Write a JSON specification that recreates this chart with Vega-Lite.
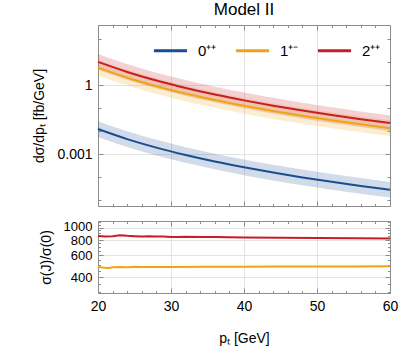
{
  "$schema": "https://vega.github.io/schema/vega-lite/v6.json",
  "padding": {"left": 32, "top": 0, "right": 5, "bottom": 5},
  "background": "white",
  "datasets": {
    "main": [
      {"pT": 20, "J": "0\u207a\u207a", "v": 0.0123, "lo": 0.005591, "hi": 0.02706},
      {"pT": 24, "J": "0\u207a\u207a", "v": 0.004472, "lo": 0.002033, "hi": 0.009838},
      {"pT": 28, "J": "0\u207a\u207a", "v": 0.001901, "lo": 0.0008641, "hi": 0.004182},
      {"pT": 32, "J": "0\u207a\u207a", "v": 0.000906, "lo": 0.0004118, "hi": 0.001993},
      {"pT": 36, "J": "0\u207a\u207a", "v": 0.000471, "lo": 0.0002141, "hi": 0.001036},
      {"pT": 40, "J": "0\u207a\u207a", "v": 0.000263, "lo": 0.0001195, "hi": 0.0005786},
      {"pT": 44, "J": "0\u207a\u207a", "v": 0.000155, "lo": 0.00007045, "hi": 0.000341},
      {"pT": 48, "J": "0\u207a\u207a", "v": 0.0000955, "lo": 0.00004341, "hi": 0.0002101},
      {"pT": 52, "J": "0\u207a\u207a", "v": 0.0000612, "lo": 0.00002782, "hi": 0.0001346},
      {"pT": 56, "J": "0\u207a\u207a", "v": 0.0000406, "lo": 0.00001845, "hi": 0.00008932},
      {"pT": 60, "J": "0\u207a\u207a", "v": 0.0000277, "lo": 0.00001259, "hi": 0.00006094},
      {"pT": 20, "J": "1\u207a\u207b", "v": 5.88, "lo": 2.673, "hi": 12.94},
      {"pT": 24, "J": "1\u207a\u207b", "v": 2.147, "lo": 0.9759, "hi": 4.723},
      {"pT": 28, "J": "1\u207a\u207b", "v": 0.9144, "lo": 0.4156, "hi": 2.012},
      {"pT": 32, "J": "1\u207a\u207b", "v": 0.4367, "lo": 0.1985, "hi": 0.9607},
      {"pT": 36, "J": "1\u207a\u207b", "v": 0.2275, "lo": 0.1034, "hi": 0.5005},
      {"pT": 40, "J": "1\u207a\u207b", "v": 0.1273, "lo": 0.05786, "hi": 0.2801},
      {"pT": 44, "J": "1\u207a\u207b", "v": 0.07502, "lo": 0.0341, "hi": 0.165},
      {"pT": 48, "J": "1\u207a\u207b", "v": 0.04632, "lo": 0.02105, "hi": 0.1019},
      {"pT": 52, "J": "1\u207a\u207b", "v": 0.02968, "lo": 0.01349, "hi": 0.0653},
      {"pT": 56, "J": "1\u207a\u207b", "v": 0.01973, "lo": 0.008968, "hi": 0.04341},
      {"pT": 60, "J": "1\u207a\u207b", "v": 0.01346, "lo": 0.006118, "hi": 0.02961},
      {"pT": 20, "J": "2\u207a\u207a", "v": 10.52, "lo": 4.782, "hi": 23.14},
      {"pT": 24, "J": "2\u207a\u207a", "v": 3.824, "lo": 1.738, "hi": 8.413},
      {"pT": 28, "J": "2\u207a\u207a", "v": 1.616, "lo": 0.7345, "hi": 3.555},
      {"pT": 32, "J": "2\u207a\u207a", "v": 0.7656, "lo": 0.348, "hi": 1.684},
      {"pT": 36, "J": "2\u207a\u207a", "v": 0.3956, "lo": 0.1798, "hi": 0.8703},
      {"pT": 40, "J": "2\u207a\u207a", "v": 0.2196, "lo": 0.09982, "hi": 0.4831},
      {"pT": 44, "J": "2\u207a\u207a", "v": 0.1287, "lo": 0.0585, "hi": 0.2831},
      {"pT": 48, "J": "2\u207a\u207a", "v": 0.07879, "lo": 0.03581, "hi": 0.1733},
      {"pT": 52, "J": "2\u207a\u207a", "v": 0.05006, "lo": 0.02275, "hi": 0.1101},
      {"pT": 56, "J": "2\u207a\u207a", "v": 0.03297, "lo": 0.01499, "hi": 0.07253},
      {"pT": 60, "J": "2\u207a\u207a", "v": 0.02238, "lo": 0.01017, "hi": 0.04924}
    ],
    "ratio": [
      {"pT": 20, "J": "2\u207a\u207a", "r": 856},
      {"pT": 21, "J": "2\u207a\u207a", "r": 846},
      {"pT": 22, "J": "2\u207a\u207a", "r": 850},
      {"pT": 23, "J": "2\u207a\u207a", "r": 867},
      {"pT": 24, "J": "2\u207a\u207a", "r": 858},
      {"pT": 25, "J": "2\u207a\u207a", "r": 852},
      {"pT": 26, "J": "2\u207a\u207a", "r": 846},
      {"pT": 27, "J": "2\u207a\u207a", "r": 851},
      {"pT": 28, "J": "2\u207a\u207a", "r": 848},
      {"pT": 29, "J": "2\u207a\u207a", "r": 846},
      {"pT": 30, "J": "2\u207a\u207a", "r": 841},
      {"pT": 31, "J": "2\u207a\u207a", "r": 838},
      {"pT": 32, "J": "2\u207a\u207a", "r": 842},
      {"pT": 34, "J": "2\u207a\u207a", "r": 840},
      {"pT": 36, "J": "2\u207a\u207a", "r": 838},
      {"pT": 38, "J": "2\u207a\u207a", "r": 835},
      {"pT": 40, "J": "2\u207a\u207a", "r": 831},
      {"pT": 45, "J": "2\u207a\u207a", "r": 828},
      {"pT": 50, "J": "2\u207a\u207a", "r": 825},
      {"pT": 55, "J": "2\u207a\u207a", "r": 820},
      {"pT": 60, "J": "2\u207a\u207a", "r": 815},
      {"pT": 20, "J": "1\u207a\u207b", "r": 481},
      {"pT": 21, "J": "1\u207a\u207b", "r": 474},
      {"pT": 21.5, "J": "1\u207a\u207b", "r": 473},
      {"pT": 22, "J": "1\u207a\u207b", "r": 478},
      {"pT": 23, "J": "1\u207a\u207b", "r": 482},
      {"pT": 24, "J": "1\u207a\u207b", "r": 480},
      {"pT": 25, "J": "1\u207a\u207b", "r": 483},
      {"pT": 26, "J": "1\u207a\u207b", "r": 481},
      {"pT": 28, "J": "1\u207a\u207b", "r": 482},
      {"pT": 30, "J": "1\u207a\u207b", "r": 482},
      {"pT": 35, "J": "1\u207a\u207b", "r": 483},
      {"pT": 40, "J": "1\u207a\u207b", "r": 484},
      {"pT": 45, "J": "1\u207a\u207b", "r": 485},
      {"pT": 50, "J": "1\u207a\u207b", "r": 485},
      {"pT": 55, "J": "1\u207a\u207b", "r": 486},
      {"pT": 60, "J": "1\u207a\u207b", "r": 487}
    ]
  },
  "spacing": 8,
  "vconcat": [
    {
      "width": 292,
      "height": 181,
      "title": {"text": "Model II", "fontSize": 17, "fontWeight": "normal", "color": "#000", "offset": 6, "anchor": "middle"},
      "data": {"name": "main"},
      "layer": [
        {
          "mark": {"type": "area", "interpolate": "monotone", "fillOpacity": 0.2},
          "encoding": {
            "x": {"field": "pT", "type": "quantitative", "scale": {"domain": [20, 60], "nice": false, "zero": false}, "axis": null},
            "y": {"field": "lo", "type": "quantitative", "scale": {"type": "log", "domain": [0.0000054, 427], "nice": false}, "axis": null},
            "y2": {"field": "hi"},
            "color": {"field": "J", "type": "nominal", "scale": {"domain": ["0\u207a\u207a", "1\u207a\u207b", "2\u207a\u207a"], "range": ["#1a4d8f", "#eda613", "#c81d25"]}}
          }
        },
        {
          "mark": {"type": "line", "interpolate": "monotone", "strokeWidth": 2},
          "encoding": {
            "x": {"field": "pT", "type": "quantitative", "axis": {
              "orient": "bottom", "values": [20,22,24,26,28,30,32,34,36,38,40,42,44,46,48,50,52,54,56,58,60],
              "labels": false, "title": null,
              "tickSize": {"condition": {"test": "datum.value % 10 === 0", "value": -5}, "value": -2.5},
              "grid": true,
              "gridOpacity": {"condition": {"test": "datum.value > 20 && datum.value < 60 && datum.value % 10 === 0", "value": 1}, "value": 0}
            }},
            "y": {"field": "v", "type": "quantitative", "axis": {
              "orient": "left", "values": [0.00001, 0.0001, 0.001, 0.01, 0.1, 1, 10, 100],
              "labelExpr": "datum.value === 1 ? '1' : (datum.value === 0.001 ? '0.001' : '')",
              "labelPadding": 11, "labelOverlap": false,
              "title": "d\u03c3/dp\u209c [fb/GeV]", "titlePadding": 10,
              "tickSize": {"condition": {"test": "datum.value === 1 || datum.value === 0.001", "value": -5}, "value": -3},
              "grid": true,
              "gridOpacity": {"condition": {"test": "datum.value === 1 || datum.value === 0.001", "value": 1}, "value": 0}
            }},
            "color": {"field": "J", "type": "nominal", "scale": {"domain": ["0\u207a\u207a", "1\u207a\u207b", "2\u207a\u207a"], "range": ["#1a4d8f", "#eda613", "#c81d25"]},
              "legend": {"orient": "none", "legendX": 54, "legendY": 7, "direction": "horizontal", "title": null,
                "symbolType": "stroke", "symbolSize": 1100, "symbolStrokeWidth": 3, "symbolOpacity": 1, "labelFontSize": 15, "labelColor": "#000",
                "labelOffset": 9, "columnPadding": 12, "padding": 0}}
          }
        },
        {
          "mark": {"type": "line", "opacity": 0},
          "encoding": {
            "x": {"field": "pT", "type": "quantitative", "axis": {
              "orient": "top", "values": [20,22,24,26,28,30,32,34,36,38,40,42,44,46,48,50,52,54,56,58,60],
              "labels": false, "title": null, "grid": false,
              "tickSize": {"condition": {"test": "datum.value % 10 === 0", "value": -5}, "value": -2.5}
            }},
            "y": {"field": "v", "type": "quantitative", "axis": {
              "orient": "right", "values": [0.00001, 0.0001, 0.001, 0.01, 0.1, 1, 10, 100],
              "labels": false, "title": null, "grid": false,
              "tickSize": {"condition": {"test": "datum.value === 1 || datum.value === 0.001", "value": -5}, "value": -3}
            }},
            "detail": {"field": "J"}
          }
        }
      ],
      "resolve": {"axis": {"x": "independent", "y": "independent"}}
    },
    {
      "width": 292,
      "height": 72,
      "data": {"name": "ratio"},
      "layer": [
        {
          "transform": [{"filter": "datum.J === '2\u207a\u207a'"}],
          "mark": {"type": "line", "strokeWidth": 2, "color": "#c81d25"},
          "encoding": {
            "x": {"field": "pT", "type": "quantitative", "scale": {"domain": [20, 60], "nice": false, "zero": false}, "axis": {
              "orient": "bottom", "values": [20,22,24,26,28,30,32,34,36,38,40,42,44,46,48,50,52,54,56,58,60],
              "labelExpr": "datum.value % 10 === 0 ? '' + datum.value : ''",
              "labelPadding": 11, "labelOverlap": false,
              "title": "p\u209c [GeV]", "titlePadding": 16,
              "tickSize": {"condition": {"test": "datum.value % 10 === 0", "value": -5}, "value": -2.5},
              "grid": true,
              "gridOpacity": {"condition": {"test": "datum.value > 20 && datum.value < 60 && datum.value % 10 === 0", "value": 1}, "value": 0}
            }},
            "y": {"field": "r", "type": "quantitative", "scale": {"type": "log", "domain": [297, 1130], "nice": false}, "axis": {
              "orient": "left", "values": [300,350,400,450,500,550,600,650,700,750,800,850,900,950,1000,1050,1100],
              "labelExpr": "(datum.value === 400 || datum.value === 600 || datum.value === 800 || datum.value === 1000) ? '' + datum.value : ''",
              "labelPadding": 11, "labelOverlap": false, "labelFontSize": 13,
              "labelOffset": {"condition": {"test": "datum.value === 1000", "value": -1.5}, "value": 0.5},
              "title": "\u03c3(J)/\u03c3(0)", "titlePadding": 10,
              "tickSize": {"condition": {"test": "datum.value % 200 === 0", "value": -5}, "value": -2.5},
              "grid": true,
              "gridOpacity": {"condition": {"test": "datum.value === 400 || datum.value === 600 || datum.value === 800 || datum.value === 1000", "value": 1}, "value": 0}
            }}
          }
        },
        {
          "transform": [{"filter": "datum.J === '1\u207a\u207b'"}],
          "mark": {"type": "line", "strokeWidth": 2, "color": "#eda613"},
          "encoding": {
            "x": {"field": "pT", "type": "quantitative", "axis": null},
            "y": {"field": "r", "type": "quantitative", "axis": null}
          }
        },
        {
          "mark": {"type": "line", "opacity": 0},
          "encoding": {
            "x": {"field": "pT", "type": "quantitative", "axis": {
              "orient": "top", "values": [20,22,24,26,28,30,32,34,36,38,40,42,44,46,48,50,52,54,56,58,60],
              "labels": false, "title": null, "grid": false,
              "tickSize": {"condition": {"test": "datum.value % 10 === 0", "value": -5}, "value": -2.5}
            }},
            "y": {"field": "r", "type": "quantitative", "axis": {
              "orient": "right", "values": [300,350,400,450,500,550,600,650,700,750,800,850,900,950,1000,1050,1100],
              "labels": false, "title": null, "grid": false,
              "tickSize": {"condition": {"test": "datum.value % 200 === 0", "value": -5}, "value": -2.5}
            }},
            "detail": {"field": "J"}
          }
        }
      ],
      "resolve": {"axis": {"x": "independent", "y": "independent"}}
    }
  ],
  "config": {
    "font": "Liberation Sans",
    "view": {"stroke": "#8c8c8c", "strokeWidth": 1},
    "axis": {
      "domain": false,
      "tickColor": "#8c8c8c",
      "gridColor": "#e4e4e4",
      "labelFontSize": 14,
      "labelColor": "#000",
      "labelFlush": false,
      "labelOverlap": false,
      "titleFontSize": 14,
      "titleFontWeight": "normal",
      "titleColor": "#000"
    }
  }
}
